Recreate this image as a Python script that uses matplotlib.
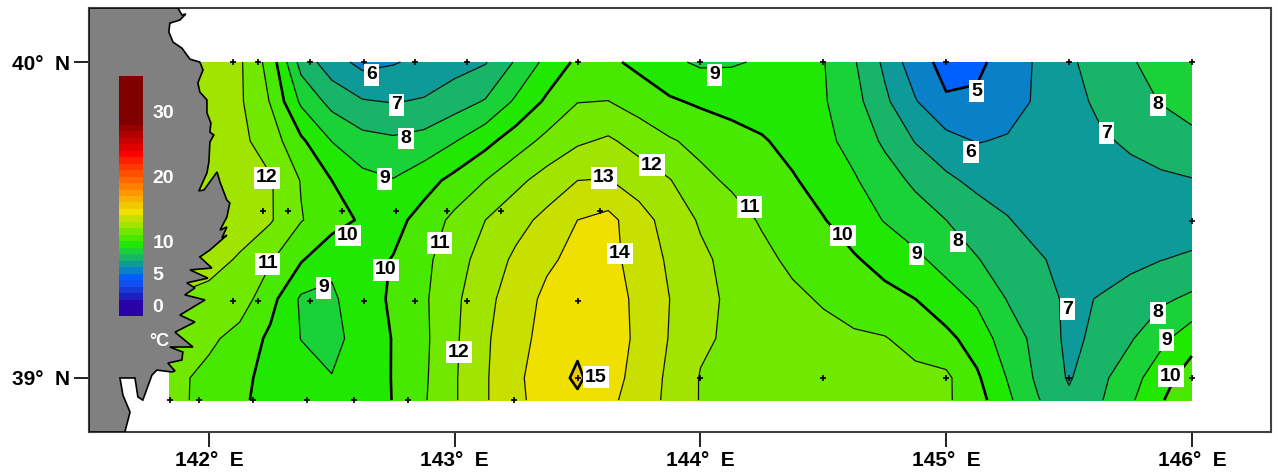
import numpy as np
import matplotlib
matplotlib.use('Agg')
import matplotlib.pyplot as plt
from matplotlib.colors import ListedColormap, BoundaryNorm

plt.rcParams['font.family'] = ['Liberation Sans', 'DejaVu Sans']

lons = [141.84] + [142 + 0.125 * i for i in range(33)]
lats = [40.0, 39.875, 39.75, 39.625, 39.5, 39.375, 39.25, 39.125, 39.0, 38.93]

# sea surface temperature, one list per latitude
t_40000 = [12.8,12.5,12.15,10.6,7.6,6.43,5.7,5.92,6.26,6.6,6.93,8.12,9.28,10.2,10.2,9.75,9.2,8.85,8.9,9.1,9.2,9.05,8.1,6.8,5.4,4.7,4.8,5.4,6.15,6.85,7.4,7.9,8.4,8.9]
t_39875 = [12.8,12.5,12.15,10.95,8.82,7.67,7.08,6.95,7.09,7.55,8.08,9.17,10.17,10.97,11.02,10.56,10.13,9.85,9.65,9.5,9.35,9.1,8.35,7.2,6.07,5.1,5.15,5.55,6.16,6.64,7.2,7.58,8.05,8.45]
t_39750 = [12.8,12.55,12.25,11.52,10.18,8.98,8.35,8.17,8.37,8.95,9.7,10.53,11.27,11.85,12.15,11.63,11.1,10.73,10.4,10.1,9.68,9.25,8.67,7.83,6.95,6.35,5.95,6.1,6.35,6.55,6.85,7.15,7.4,7.7]
t_39625 = [12.85,12.6,12.35,12.1,10.95,10.0,9.3,9.05,9.6,10.3,11.0,11.75,12.41,13.0,13.05,12.55,12.05,11.25,10.85,10.5,10.1,9.6,9.1,8.46,7.8,7.2,6.75,6.6,6.5,6.5,6.55,6.7,6.85,6.95]
t_39500 = [12.9,12.7,12.45,12.1,11.05,10.45,9.85,9.65,10.4,11.25,12.0,12.65,13.28,14.0,14.3,13.4,12.6,11.89,11.4,10.9,10.5,10.05,9.5,8.95,8.5,8.0,7.5,7.05,6.65,6.45,6.4,6.4,6.45,6.5]
t_39375 = [12.7,12.35,11.9,11.1,10.1,9.2,9.6,10.05,10.75,11.6,12.4,13.2,13.85,14.25,14.3,13.6,12.85,12.2,11.7,11.25,10.8,10.45,10.1,9.65,9.2,8.65,8.05,7.55,7.1,6.7,6.6,6.75,6.98,7.15]
t_39250 = [11.95,11.7,11.5,10.35,8.85,8.85,9.55,10.15,10.85,11.8,12.7,13.55,14.2,14.6,14.4,13.8,13.0,12.3,11.82,11.5,11.2,10.9,10.55,10.3,10.0,9.4,8.85,7.95,7.45,6.8,7.05,7.42,7.82,8.2]
t_39125 = [11.7,11.2,10.65,9.8,8.98,8.75,9.35,10.05,10.8,11.85,12.85,13.7,14.3,14.8,14.5,13.8,12.95,12.15,11.85,11.65,11.45,11.3,11.15,11.05,10.67,10.26,9.55,8.5,7.7,6.75,7.25,7.9,8.75,9.6]
t_39000 = [11.3,10.72,10.2,9.75,9.4,9.03,9.4,10.05,10.85,11.9,12.9,13.8,14.55,15.15,14.4,13.65,12.8,11.95,11.75,11.6,11.5,11.4,11.35,11.3,11.25,11.2,10.15,8.95,7.8,6.9,7.75,8.6,9.6,10.5]
t_38930 = [11.35,10.65,10.1,9.8,9.5,9.3,9.5,10.03,10.9,11.9,12.9,13.8,14.4,14.85,14.2,13.6,12.75,11.95,11.8,11.7,11.6,11.5,11.4,11.3,11.25,11.15,10.4,9.2,8.05,7.2,7.9,8.85,9.9,10.9]

# colour scale, one band per degree, ends are wider
band_edges = [-2,1,2,3,4,5,6,7,8,9,10,11,12,13,14,15,16,17,18,19,20,21,22,23,24,25,26,27,28,37]
band_colors = ['#2a00a8','#1c20c0','#1838d8','#1050f0','#0060ff','#0a80c8','#0e9a98','#18b468','#1ad238',
               '#20e800','#48e800','#70e800','#a0e400','#c8e000','#f0e000','#f0c800','#f8b000','#ff9800',
               '#ff8000','#ff6800','#ff5000','#ff3800','#ff2000','#ff0000','#e00000','#c80000','#b00000',
               '#980000','#800000']
bar_ticks = [0, 5, 10, 20, 30]

# observation stations
st_lon = [142.1,142.2,142.41,142.63,142.84,143.05,143.5,144,144.5,145,145.5,146,
          142.22,142.32,142.54,142.76,142.97,143.19,143.59,146,
          142.1,142.2,142.41,142.63,142.84,143.05,143.5,
          141.84,141.96,142.18,142.4,142.59,142.81,143.24,
          143.5,144,144.5,145,145.5,146]
st_lat = [40]*12 + [39.528]*7 + [39.497] + [39.244]*7 + [38.93]*7 + [39]*6

# contour labels
lab_text = ['6','7','8','9','12','10','11','9','10','11','12','13','12','14','15','11','9','10','9','8','6','5','7','8','7','8','9','10']
lab_lon = [142.663,142.765,142.802,142.716,142.236,142.566,142.24,142.468,142.72,142.94,143.017,143.607,143.803,143.672,143.575,144.201,144.059,144.58,144.881,145.048,145.101,145.125,145.654,145.862,145.495,145.862,145.898,145.914]
lab_lat = [39.959,39.864,39.759,39.63,39.633,39.452,39.361,39.285,39.342,39.427,39.082,39.633,39.674,39.395,39.003,39.541,39.959,39.452,39.392,39.433,39.715,39.908,39.775,39.864,39.218,39.206,39.12,39.006]

# coastline of the land area, north to south, then back along the frame
coast_lon = [141.874,141.89,141.906,141.882,141.841,141.837,141.854,141.89,141.923,141.963,141.976,141.955,141.963,141.992,141.992,142.008,142.004,142.02,142.004,142.0,141.992,141.959,141.98,142.033,142.045,142.073,142.085,142.073,142.045,142.073,142.053,142.073,142.004,141.963,142.012,141.923,141.996,141.91,141.943,141.902,141.984,141.882,141.943,141.862,141.935,141.841,141.894,141.89,141.833,141.862,141.849,141.788,141.768,141.731,141.711,141.699,141.638,141.65,141.679,141.658,141.512,141.512]
coast_lat = [40.171,40.149,40.152,40.133,40.123,40.095,40.063,40.044,40.009,40.0,39.975,39.934,39.905,39.88,39.839,39.807,39.778,39.769,39.747,39.684,39.649,39.592,39.595,39.652,39.62,39.563,39.554,39.509,39.468,39.478,39.443,39.452,39.405,39.383,39.348,39.342,39.316,39.301,39.285,39.263,39.247,39.199,39.177,39.145,39.098,39.098,39.082,39.057,39.047,39.022,39.019,39.025,39.009,38.93,38.94,39.0,39.0,38.946,38.892,38.829,38.829,40.171]

temps = np.array([t_40000,t_39875,t_39750,t_39625,t_39500,t_39375,t_39250,t_39125,t_39000,t_38930])
cmap = ListedColormap(band_colors)
norm = BoundaryNorm(band_edges, cmap.N)

W, H = 1278, 475
fig = plt.figure(figsize=(W/100., H/100.), dpi=100, facecolor='white')
ax = fig.add_axes([89./W, 1-432./H, 1182./W, 424./H])
ax.set_xlim(141.512, 146.322)
ax.set_ylim(38.829, 40.171)

ax.contourf(lons, lats, temps, levels=band_edges, cmap=cmap, norm=norm, zorder=1)
thin = [6,7,8,9,11,12,13,14]
thick = [5,10,15]
ax.contour(lons, lats, temps, levels=thin, colors='#101010', linewidths=0.9, zorder=2)
ax.contour(lons, lats, temps, levels=thick, colors='black', linewidths=1.9, zorder=2)
ax.plot(st_lon, st_lat, '+', color='black', ms=4.5, mew=1.2, clip_on=False, zorder=3)

ax.fill(coast_lon, coast_lat, facecolor='#808080', edgecolor='black', linewidth=1.2, zorder=4)

for t, x, y in zip(lab_text, lab_lon, lab_lat):
    ax.text(x, y, t, ha='center', va='center', fontsize=14, fontweight='bold', color='black', zorder=5,
            bbox=dict(facecolor='white', edgecolor='none', pad=1.5))

ax.text(141.8, 39.115, '\u00b0C', color='white', fontsize=13, fontweight='bold', ha='center', va='center', zorder=6)

ax.set_xticks([142,143,144,145,146])
ax.set_xticklabels(['142\u00b0  E','143\u00b0  E','144\u00b0  E','145\u00b0  E','146\u00b0  E'], fontsize=15, fontweight='bold')
ax.set_yticks([39,40])
ax.set_yticklabels(['39\u00b0  N','40\u00b0  N'], fontsize=15, fontweight='bold')
ax.tick_params(axis='both', length=11, width=1.4, pad=3, color='#202020')
for s in ax.spines.values():
    s.set_linewidth(1.5)
    s.set_color('#404040')

# temperature scale sits on the land, y runs so that 0 is at 306 px and 30 at 112 px
cax = fig.add_axes([119./W, 1-316./H, 24./W, 240./H], zorder=10)
cax.pcolormesh([0,1], band_edges, np.array(band_edges[:-1]).reshape(-1,1), cmap=cmap, norm=norm)
cax.set_ylim(-1.55, 35.55)
cax.set_xticks([])
cax.yaxis.tick_right()
cax.set_yticks(bar_ticks)
cax.set_yticklabels([str(v) for v in bar_ticks], color='white', fontsize=14, fontweight='bold')
cax.tick_params(axis='y', length=0, pad=7)
for s in cax.spines.values():
    s.set_visible(False)

fig.savefig('out.png', dpi=100)
